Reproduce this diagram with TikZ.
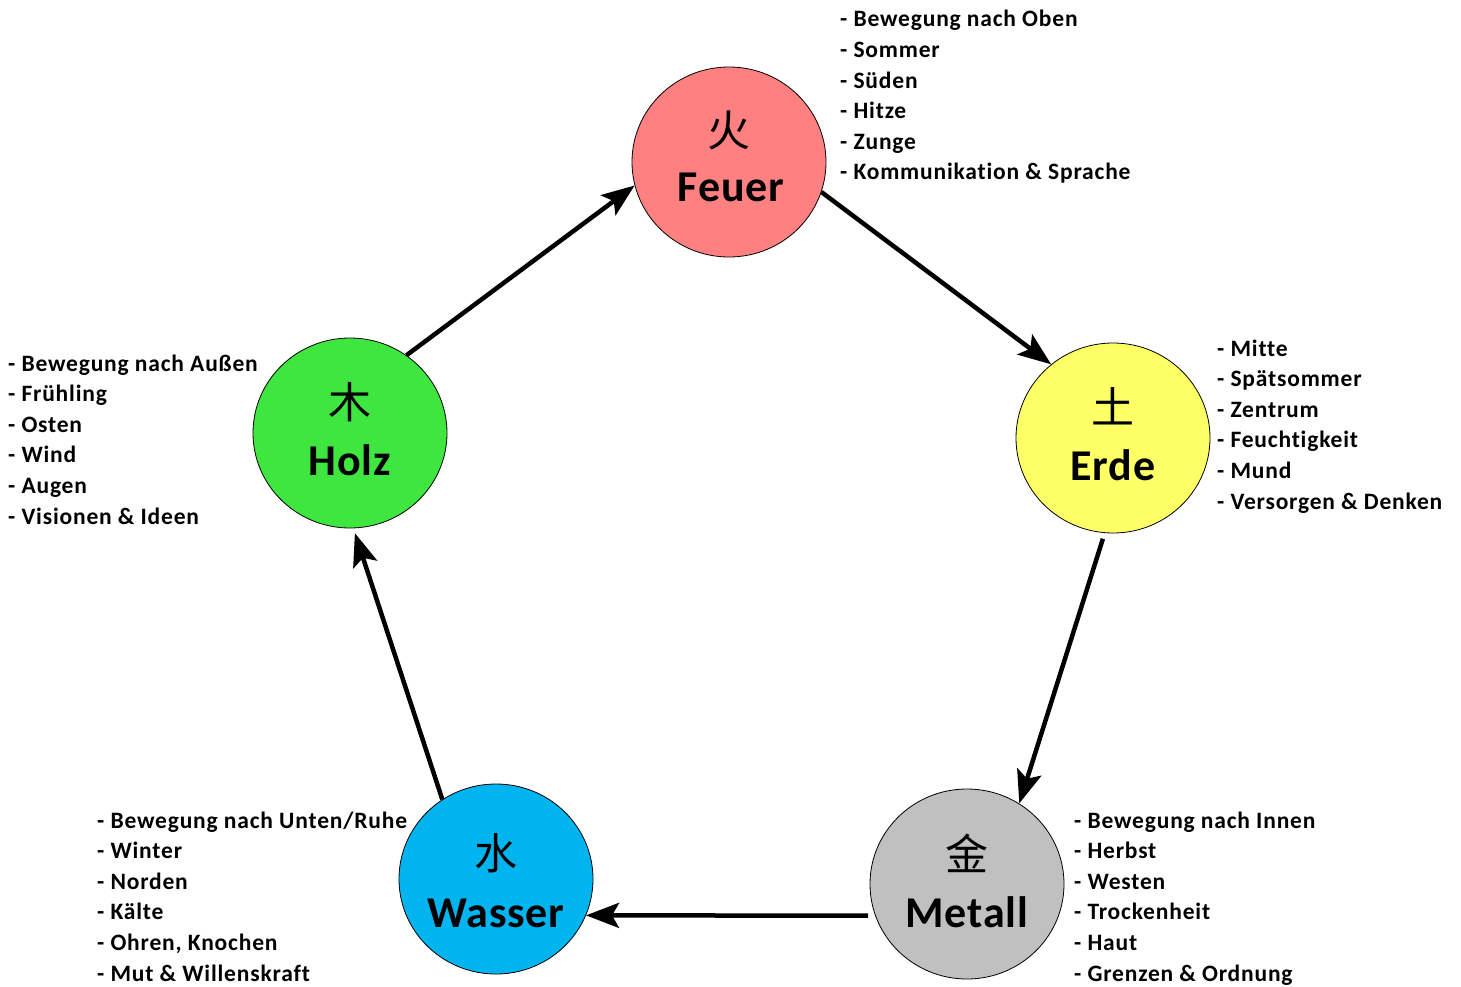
\documentclass[tikz,border=0pt]{standalone}
\usepackage{fontspec}
\setmainfont{Carlito}
\newfontfamily\listfont{Carlito}[LetterSpace=3.5,Ligatures=NoCommon]
\newfontfamily\namefont{Carlito}[LetterSpace=2,Ligatures=NoCommon]
\newfontfamily\cjk{Noto Sans CJK SC}
\usetikzlibrary{arrows.meta,shapes.geometric}
\definecolor{cfeuer}{RGB}{255,128,128}
\definecolor{cerde}{RGB}{255,255,102}
\definecolor{cholz}{RGB}{64,230,64}
\definecolor{cwasser}{RGB}{0,180,240}
\definecolor{cmetall}{RGB}{192,192,192}
\tikzset{
  element/.style={ellipse, draw=black, line width=0.8pt, minimum width=194pt, minimum height=190pt, inner sep=0pt},
  cjkchar/.style={font=\cjk\fontsize{43}{46}\selectfont, inner sep=0pt},
  elname/.style={font=\namefont\bfseries\fontsize{44}{50}\selectfont, inner sep=0pt, anchor=base},
  listline/.style={font=\listfont\bfseries\fontsize{23.5}{28}\selectfont, inner sep=0pt, anchor=base west},
  flow/.style={line width=4.5pt, -{Stealth[length=33pt,width=25pt,inset=7pt]}}
}
\begin{document}
\begin{tikzpicture}[x=1pt,y=-1pt]
\useasboundingbox (0,0) rectangle (1461,987);
\fill[white] (0,0) rectangle (1461,987);
% elements
\node[element, fill=cfeuer] (feuer) at (729,162) {};
\node[element, fill=cerde] (erde) at (1113,438) {};
\node[element, fill=cholz] (holz) at (350,433) {};
\node[element, fill=cwasser] (wasser) at (496,879) {};
\node[element, fill=cmetall] (metall) at (967,884) {};
% characters and names
\node[cjkchar] (feuerc) at (729,130) {火};
\node[elname] (feuern) at (731,202) {Feuer};
\node[cjkchar] (erdec) at (1113,406) {土};
\node[elname] (erden) at (1113,480) {Erde};
\node[cjkchar] (holzc) at (350,402) {木};
\node[elname] (holzn) at (350,475) {Holz};
\node[cjkchar] (wasserc) at (496,853) {水};
\node[elname] (wassern) at (496,927) {Wasser};
\node[cjkchar] (metallc) at (967,853) {金};
\node[elname] (metalln) at (967,927) {Metall};
% arrows
\draw[flow] (holz.54) -- (feuer.194);
\draw[flow] (feuer.342) -- (erde.130);
\draw[flow, shorten <=6pt] (erde.265) -- (metall.57);
\draw[flow, shorten <=7pt] (metall.199) -- (wasser.338);
\draw[flow, shorten >=5pt] (wasser.124) -- (holz.272);
% lists
\foreach \t [count=\i from 0] in {Bewegung nach Oben, Sommer, Süden, Hitze, Zunge, Kommunikation \& Sprache}
  \node[listline] (lf\i) at (840,{27+30.6*\i}) {- \t};
\foreach \t [count=\i from 0] in {Bewegung nach Außen, Frühling, Osten, Wind, Augen, Visionen \& Ideen}
  \node[listline] (lh\i) at (8,{371+30.6*\i}) {- \t};
\foreach \t [count=\i from 0] in {Mitte, Spätsommer, Zentrum, Feuchtigkeit, Mund, Versorgen \& Denken}
  \node[listline] (le\i) at (1217,{356+30.6*\i}) {- \t};
\foreach \t [count=\i from 0] in {Bewegung nach Unten/Ruhe, Winter, Norden, Kälte, {Ohren, Knochen}, Mut \& Willenskraft}
  \node[listline] (lw\i) at (97,{828+30.6*\i}) {- \t};
\foreach \t [count=\i from 0] in {Bewegung nach Innen, Herbst, Westen, Trockenheit, Haut, Grenzen \& Ordnung}
  \node[listline] (lm\i) at (1074,{828+30.6*\i}) {- \t};
\end{tikzpicture}
\end{document}
